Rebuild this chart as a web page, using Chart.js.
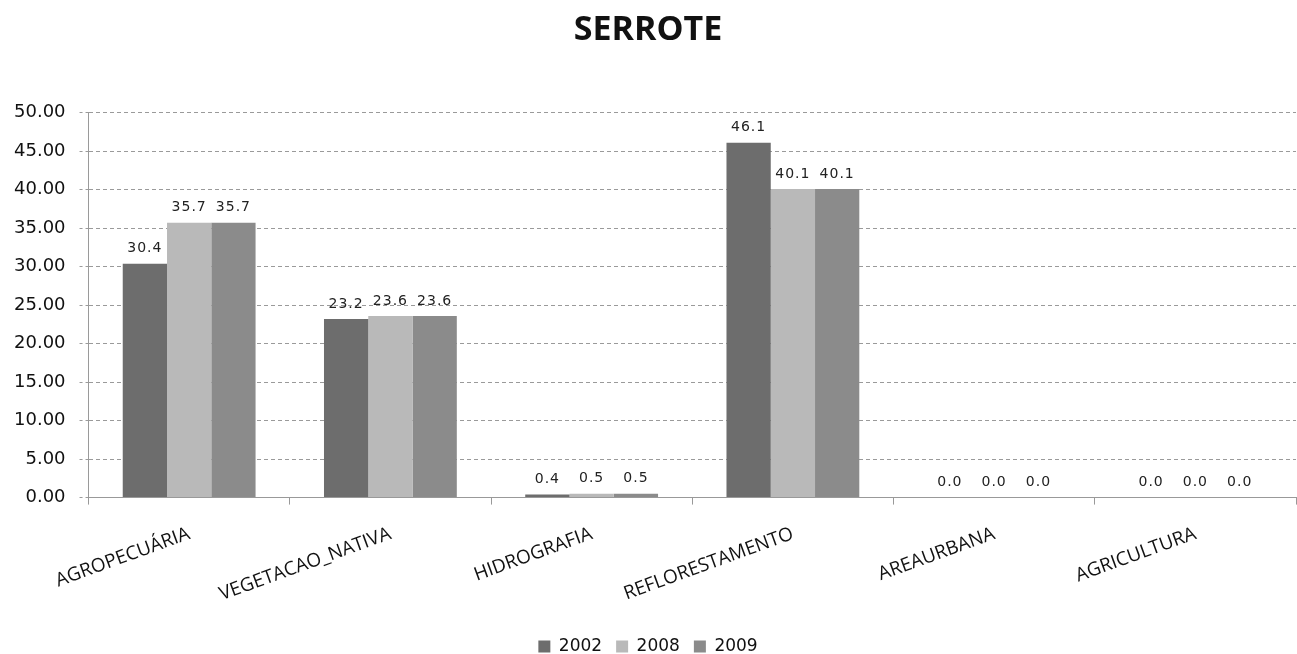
<!DOCTYPE html>
<html>
<head>
<meta charset="utf-8">
<script src="https://cdn.jsdelivr.net/npm/chart.js@4.4.1/dist/chart.umd.min.js"></script>
<style>
  html, body { margin: 0; padding: 0; background: #fff; }
  #wrap { width: 1297px; height: 654px; }
</style>
</head>
<body>
<div id="wrap"><canvas id="serroteChart" width="1297" height="654"></canvas></div>
<script>
// categorias e valores
const categories = ['AGROPECUÁRIA', 'VEGETACAO_NATIVA', 'HIDROGRAFIA', 'REFLORESTAMENTO', 'AREAURBANA', 'AGRICULTURA']
const years = ['2002', '2008', '2009']
const v2002 = [30.4, 23.2, 0.4, 46.1, 0.0, 0.0]
const v2008 = [35.7, 23.6, 0.5, 40.1, 0.0, 0.0]
const v2009 = [35.7, 23.6, 0.5, 40.1, 0.0, 0.0]
const barColors = ['#6d6d6d', '#b9b9b9', '#8b8b8b']

// rotulos de valor em cima das barras
const valueLabels = {
  id: 'valueLabels',
  afterDatasetsDraw(chart) {
    const ctx = chart.ctx
    ctx.save()
    ctx.font = '14px "DejaVu Sans", sans-serif'
    ctx.letterSpacing = '1px'
    ctx.fillStyle = '#222'
    ctx.textAlign = 'center'
    ctx.textBaseline = 'bottom'
    chart.data.datasets.forEach((ds, i) => {
      chart.getDatasetMeta(i).data.forEach((bar, j) => {
        ctx.fillText(ds.data[j].toFixed(1), bar.x, bar.y - 8)
      })
    })
    ctx.restore()
  }
}

const ctx = document.getElementById('serroteChart').getContext('2d')
const myChart = new Chart(ctx, {
  type: 'bar',
  data: {
    labels: categories,
    datasets: [
      { label: years[0], data: v2002, backgroundColor: barColors[0] },
      { label: years[1], data: v2008, backgroundColor: barColors[1] },
      { label: years[2], data: v2009, backgroundColor: barColors[2] }
    ]
  },
  options: {
    responsive: false,
    animation: false,
    layout: { padding: { left: 0, right: 1, top: 2, bottom: -11 } },
    datasets: {
      bar: { categoryPercentage: 0.66, barPercentage: 1.0, borderWidth: 0 }
    },
    plugins: {
      title: {
        display: true,
        text: 'SERROTE',
        color: '#111',
        font: { family: '"Open Sans", Lato, sans-serif', size: 34, weight: 'bold' },
        padding: { top: 8, bottom: 62 }
      },
      legend: {
        position: 'bottom',
        labels: {
          boxWidth: 12,
          boxHeight: 12,
          padding: 14,
          color: '#111',
          font: { family: '"DejaVu Sans", sans-serif', size: 17 }
        }
      },
      tooltip: { enabled: false }
    },
    scales: {
      x: {
        grid: {
          offset: true,
          drawOnChartArea: false,
          drawTicks: true,
          tickLength: 7,
          color: '#999'
        },
        border: { color: '#999', width: 1 },
        ticks: {
          minRotation: 20,
          maxRotation: 20,
          color: '#111',
          padding: 18,
          font: { family: '"Open Sans", sans-serif', size: 19 }
        }
      },
      y: {
        min: 0,
        max: 50,
        grid: {
          color: '#9a9a9a',
          tickLength: 9,
          tickBorderDash: [3, 3]
        },
        border: { dash: [4, 3], color: '#9a9a9a' },
        ticks: {
          stepSize: 5,
          color: '#111',
          padding: 14,
          font: { family: '"DejaVu Sans", sans-serif', size: 18 },
          callback: (v) => Number(v).toFixed(2)
        }
      }
    }
  },
  plugins: [valueLabels]
})

// linhas tracejadas horizontais
myChart.options.scales.y.grid.borderDash = [4, 3]
myChart.update()
</script>
</body>
</html>
